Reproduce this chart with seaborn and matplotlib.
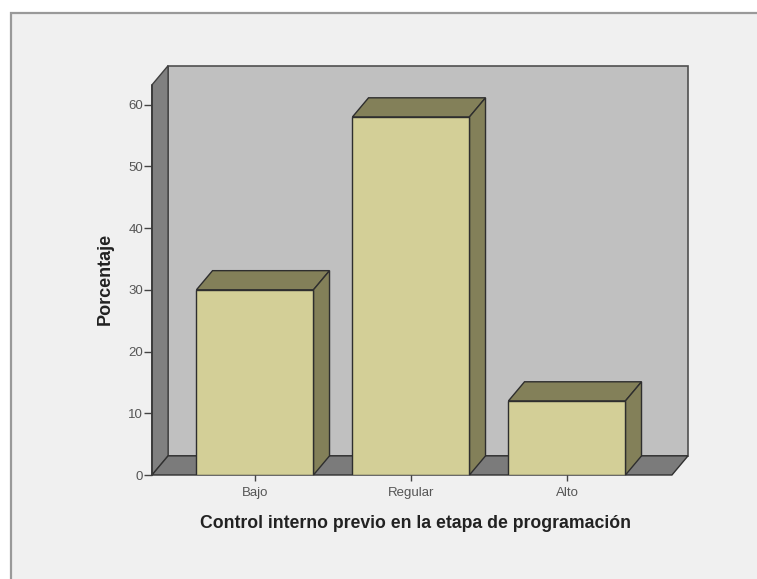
import matplotlib
matplotlib.use("Agg")
import matplotlib.pyplot as plt
from matplotlib.patches import Polygon, Rectangle
import seaborn as sns
import pandas as pd

# Data
categorias = ["Bajo", "Regular", "Alto"]
porcentajes = [30.0, 58.0, 12.0]
yticks = [0, 10, 20, 30, 40, 50, 60]

sns.set_theme(style="white")
plt.rcParams["font.family"] = ["Liberation Sans", "DejaVu Sans"]

W, H = 757, 579
fig = plt.figure(figsize=(W / 100, H / 100), dpi=100)
fig.patch.set_facecolor("white")

# Chart panel with grey frame (drawn behind the axes)
fig.patches.append(Rectangle((11 / W, -0.05), 1.0, 1.05 - 13 / H,
                             transform=fig.transFigure, facecolor="#f0f0f0",
                             edgecolor="#999999", lw=1.6, zorder=-10))

ax = fig.add_axes([152 / W, 1 - 475 / H, (688 - 152) / W, (475 - 65.7) / H])
ax.set_zorder(1)
ax.patch.set_alpha(0)

df = pd.DataFrame({"cat": categorias, "pct": porcentajes})

# Front faces of the bars
sns.barplot(data=df, x="cat", y="pct", ax=ax, color="#d3cf97", saturation=1,
            width=0.75, edgecolor="#2e2e2e", linewidth=1.0, zorder=5)

# Box geometry (data units)
x0, x1 = -0.66, 2.673
ytop = 63.2
DX, DY = 0.103, 3.1

# Back wall, side wall and floor
ax.add_patch(Polygon([(x0 + DX, DY), (x1 + DX, DY), (x1 + DX, ytop + DY), (x0 + DX, ytop + DY)],
                     closed=True, facecolor="#c0c0c0", edgecolor="#505050", lw=1.2,
                     zorder=1, clip_on=False))
ax.add_patch(Polygon([(x0, 0), (x0 + DX, DY), (x0 + DX, ytop + DY), (x0, ytop)],
                     closed=True, facecolor="#808080", edgecolor="#404040", lw=1.0,
                     zorder=2, clip_on=False))
ax.add_patch(Polygon([(x0, 0), (x1, 0), (x1 + DX, DY), (x0 + DX, DY)],
                     closed=True, facecolor="#7b7b7b", edgecolor="#303030", lw=1.0,
                     zorder=2, clip_on=False))

# Top and side faces of each bar
bar_rects = [p for p in ax.patches if isinstance(p, Rectangle) and p.get_height() > 0]
for p in bar_rects:
    bx, bw, bh = p.get_x(), p.get_width(), p.get_height()
    ax.add_patch(Polygon([(bx, bh), (bx + bw, bh), (bx + bw + DX, bh + DY), (bx + DX, bh + DY)],
                         closed=True, facecolor="#838059", edgecolor="#2e2e2e", lw=1.0,
                         zorder=4, clip_on=False))
    ax.add_patch(Polygon([(bx + bw, 0), (bx + bw + DX, DY), (bx + bw + DX, bh + DY), (bx + bw, bh)],
                         closed=True, facecolor="#838059", edgecolor="#2e2e2e", lw=1.0,
                         zorder=4, clip_on=False))

ax.set_xlim(x0, x1 + DX)
ax.set_ylim(0, ytop + DY)
for s in ax.spines.values():
    s.set_visible(False)
ax.grid(False)

# Y axis line
ax.plot([x0, x0], [0, ytop], color="#3a3a3a", lw=1.3, zorder=6, clip_on=False)

ax.set_yticks(yticks)
ax.set_yticklabels([str(t) for t in yticks])
ax.tick_params(axis="y", left=True, length=6, width=1, color="#444444",
               labelsize=9.5, labelcolor="#555555", pad=0.5)
ax.set_xticks(range(len(categorias)))
ax.set_xticklabels(categorias)
ax.tick_params(axis="x", bottom=True, length=4.5, width=1, color="#444444",
               labelsize=9.5, labelcolor="#555555", pad=4)
ax.set_xlabel("")
ax.set_ylabel("")

fig.text(105 / W, 1 - 279 / H, "Porcentaje", rotation=90, ha="center", va="center",
         fontsize=13, fontweight="bold", color="#222222")
fig.text(416 / W, 1 - 523 / H, "Control interno previo en la etapa de programación",
         ha="center", va="center", fontsize=12.7, fontweight="bold", color="#222222")

fig.savefig("out.png", dpi=100)
